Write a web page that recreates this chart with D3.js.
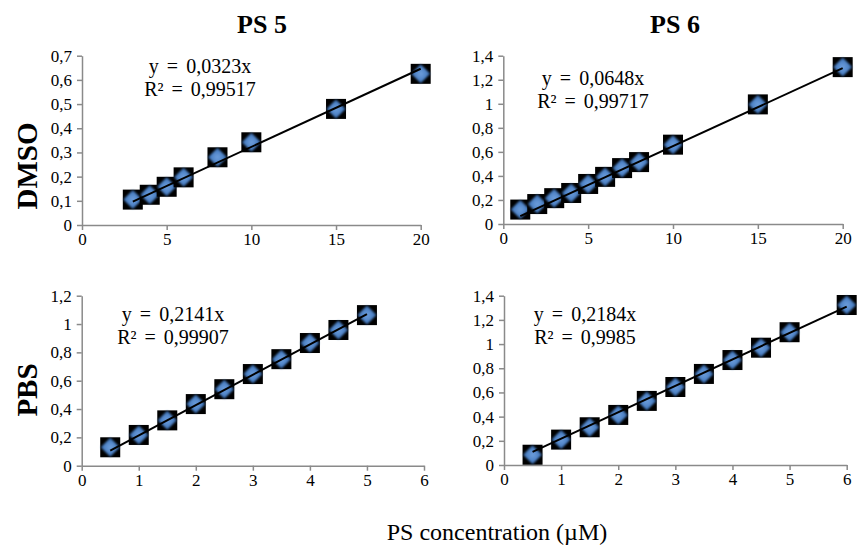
<!DOCTYPE html>
<html>
<head>
<meta charset="utf-8">
<script src="https://cdn.jsdelivr.net/npm/d3@7"></script>
<style>
  html, body { margin: 0; padding: 0; background: #fff; }
  svg { display: block; font-family: "Liberation Serif", "Times New Roman", serif; }
</style>
</head>
<body>
<svg id="chart" width="857" height="554"></svg>
<script>
// ---------------- DATA ----------------
const columnTitles = ["PS 5", "PS 6"];
const rowTitles = ["DMSO", "PBS"];
const xAxisTitle = "PS concentration (\u00b5M)";

// PS 5 in DMSO
const concPS5Dmso = [3, 4, 5, 6, 8, 10, 15, 20];
const absPS5Dmso  = [0.105, 0.125, 0.158, 0.197, 0.28, 0.342, 0.48, 0.625];
// PS 6 in DMSO
const concPS6Dmso = [1, 2, 3, 4, 5, 6, 7, 8, 10, 15, 20];
const absPS6Dmso  = [0.12, 0.166, 0.215, 0.258, 0.333, 0.392, 0.465, 0.515, 0.66, 0.995, 1.305];
// PS 5 in PBS
const concPS5Pbs = [0.5, 1, 1.5, 2, 2.5, 3, 3.5, 4, 4.5, 5];
const absPS5Pbs  = [0.13, 0.217, 0.32, 0.435, 0.54, 0.647, 0.752, 0.866, 0.958, 1.063];
// PS 6 in PBS
const concPS6Pbs = [0.5, 1, 1.5, 2, 2.5, 3, 3.5, 4, 4.5, 5, 6];
const absPS6Pbs  = [0.085, 0.21, 0.312, 0.414, 0.53, 0.645, 0.753, 0.868, 0.97, 1.098, 1.323];

// linear fits through origin
const slopes = [0.0323, 0.0648, 0.2141, 0.2184];
const equationLabels = ["y = 0,0323x", "y = 0,0648x", "y = 0,2141x", "y = 0,2184x"];
const r2Labels = ["R\u00b2 = 0,99517", "R\u00b2 = 0,99717", "R\u00b2 = 0,99907", "R\u00b2 = 0,9985"];

// axis ticks
const xTicksWide = [0, 5, 10, 15, 20];
const xTicksNarrow = [0, 1, 2, 3, 4, 5, 6];
const yTicksPS5Dmso = [0, 0.1, 0.2, 0.3, 0.4, 0.5, 0.6, 0.7];
const yTicksPS6Dmso = [0, 0.2, 0.4, 0.6, 0.8, 1, 1.2, 1.4];
const yTicksPS5Pbs  = [0, 0.2, 0.4, 0.6, 0.8, 1, 1.2];
const yTicksPS6Pbs  = [0, 0.2, 0.4, 0.6, 0.8, 1, 1.2, 1.4];

// ---------------- LAYOUT ----------------
const panels = [
  { xs: concPS5Dmso, ys: absPS5Dmso, xTicks: xTicksWide,   yTicks: yTicksPS5Dmso,
    xRange: [82, 420.7], yRange: [225, 55.7], eqX: 200, eqY: 73 },
  { xs: concPS6Dmso, ys: absPS6Dmso, xTicks: xTicksWide,   yTicks: yTicksPS6Dmso,
    xRange: [503.3, 842.7], yRange: [224, 55.7], eqX: 593, eqY: 85 },
  { xs: concPS5Pbs,  ys: absPS5Pbs,  xTicks: xTicksNarrow, yTicks: yTicksPS5Pbs,
    xRange: [81.7, 424], yRange: [465.7, 295.7], eqX: 173, eqY: 321 },
  { xs: concPS6Pbs,  ys: absPS6Pbs,  xTicks: xTicksNarrow, yTicks: yTicksPS6Pbs,
    xRange: [504, 846.7], yRange: [465, 295.7], eqX: 585, eqY: 321 }
];

const svg = d3.select("#chart");
const fmt = v => String(+v.toFixed(2)).replace(".", ",");

// marker defs
const defs = svg.append("defs");
const grad = defs.append("radialGradient").attr("id", "mk");
grad.append("stop").attr("offset", "0%").attr("stop-color", "#6f9fdc");
grad.append("stop").attr("offset", "70%").attr("stop-color", "#4a7fc3");
grad.append("stop").attr("offset", "100%").attr("stop-color", "#2f5e9e");
const blur = defs.append("filter").attr("id", "soft")
  .attr("x", "-30%").attr("y", "-30%").attr("width", "160%").attr("height", "160%");
blur.append("feGaussianBlur").attr("stdDeviation", 1.1);

panels.forEach((p, i) => {
  const x = d3.scaleLinear().domain(d3.extent(p.xTicks)).range(p.xRange);
  const y = d3.scaleLinear().domain(d3.extent(p.yTicks)).range(p.yRange);
  const g = svg.append("g");

  // axes
  const xAxis = d3.axisBottom(x).tickValues(p.xTicks).tickFormat(fmt)
    .tickSizeInner(5).tickSizeOuter(0).tickPadding(3);
  const yAxis = d3.axisLeft(y).tickValues(p.yTicks).tickFormat(fmt)
    .tickSizeInner(5).tickSizeOuter(0).tickPadding(5);
  const gx = g.append("g").attr("transform", `translate(0,${p.yRange[0]})`).call(xAxis);
  const gy = g.append("g").attr("transform", `translate(${p.xRange[0]},0)`).call(yAxis);
  [gx, gy].forEach(a => {
    a.selectAll("path, line").attr("stroke", "#8a8a8a").attr("stroke-width", 1.5);
    a.selectAll("text").attr("fill", "#000").style("font-size", "17px")
      .style("font-family", "'Liberation Serif', 'Times New Roman', serif");
  });

  // markers
  const pts = p.xs.map((v, k) => [v, p.ys[k]]);
  const mk = g.append("g").selectAll("g").data(pts).join("g")
    .attr("transform", d => `translate(${x(d[0])},${y(d[1])})`);
  mk.append("rect").attr("x", -10).attr("y", -10).attr("width", 20).attr("height", 20)
    .attr("fill", "#000");
  mk.append("path").attr("d", "M0,-9.5L9.5,0L0,9.5L-9.5,0Z")
    .attr("fill", "url(#mk)").attr("filter", "url(#soft)");

  // trend line through origin
  const [x0, x1] = d3.extent(p.xs);
  g.append("line")
    .attr("x1", x(x0)).attr("y1", y(slopes[i] * x0))
    .attr("x2", x(x1)).attr("y2", y(slopes[i] * x1))
    .attr("stroke", "#000").attr("stroke-width", 2);

  // equation
  const eq = g.append("text").attr("text-anchor", "middle")
    .style("font-size", "20px").style("word-spacing", "3px");
  eq.append("tspan").attr("x", p.eqX).attr("y", p.eqY).text(equationLabels[i]);
  eq.append("tspan").attr("x", p.eqX).attr("y", p.eqY + 23).text(r2Labels[i]);
});

// column titles
svg.selectAll(".ct").data(columnTitles).join("text")
  .attr("x", (d, i) => [262, 675][i]).attr("y", 33)
  .attr("text-anchor", "middle").style("font-size", "26px").style("font-weight", "bold")
  .text(d => d);

// row titles
svg.selectAll(".rt").data(rowTitles).join("text")
  .attr("transform", (d, i) => `translate(37,${[166, 390][i]}) rotate(-90)`)
  .attr("text-anchor", "middle").style("font-size", "29px").style("font-weight", "bold")
  .text(d => d);

// x axis title
svg.append("text").attr("x", 497).attr("y", 540).attr("text-anchor", "middle")
  .style("font-size", "24px").text(xAxisTitle);
</script>
</body>
</html>
